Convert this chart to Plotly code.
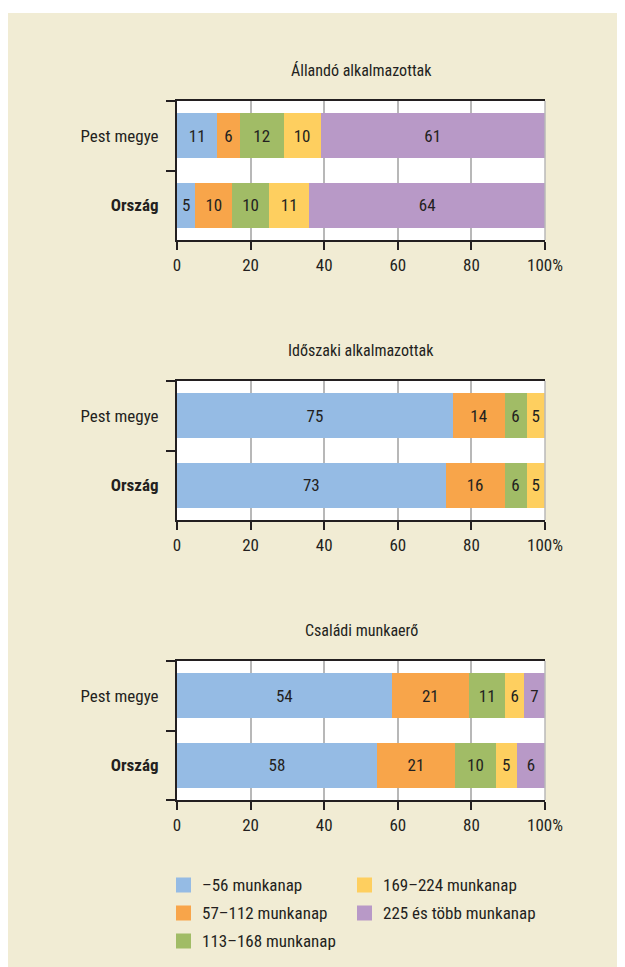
import plotly.graph_objects as go

# ---------------- data ----------------
categories = ["Pest megye", "<b>Ország</b>"]
series = ["–56 munkanap", "57–112 munkanap", "113–168 munkanap",
          "169–224 munkanap", "225 és több munkanap"]
panel_titles = ["Állandó alkalmazottak", "Időszaki alkalmazottak", "Családi munkaerő"]

# bar lengths (%) as drawn, and the numbers printed on them
allando_pest = [11, 6, 12, 10, 61]
allando_orszag = [5, 10, 10, 11, 64]
idoszaki_pest = [75, 14, 6, 5, 0]
idoszaki_orszag = [73, 16, 6, 5, 0]
csaladi_pest = [58.3, 21.1, 9.8, 5.1, 5.7]
csaladi_orszag = [54.3, 21.3, 11.0, 5.7, 7.7]
csaladi_pest_labels = [54, 21, 11, 6, 7]
csaladi_orszag_labels = [58, 21, 10, 5, 6]

x_tickvals = [0, 20, 40, 60, 80, 100]
x_ticktext = ["0", "20", "40", "60", "80", "100%"]

colors = ["#95BBE4", "#F8A54A", "#A1BC66", "#FECF5F", "#B899C7"]

panels = [
    (allando_pest, allando_orszag, allando_pest, allando_orszag),
    (idoszaki_pest, idoszaki_orszag, idoszaki_pest, idoszaki_orszag),
    (csaladi_pest, csaladi_orszag, csaladi_pest_labels, csaladi_orszag_labels),
]

# ---------------- layout geometry (page pixels) ----------------
OFF = 8                      # browser body margin
W, H = 625 - OFF, 967 - OFF  # figure size
PX0, PX1 = 177, 545          # plot area left/right (page px)
PT, PB = 101, 800            # top of first panel, bottom of last panel (page px)
panel_px = [(101, 240), (381, 520), (661, 800)]

def py(p):  # page pixel y -> paper y
    return (PB - p) / (PB - PT)

def pxx(p):  # page pixel x -> paper x
    return (p - PX0) / (PX1 - PX0)

FONT = "Roboto Condensed, Liberation Sans Narrow, DejaVu Sans Condensed, sans-serif"
TXT = "#231F20"
BG = "#F1ECD4"

fig = go.Figure()

for i, (vp, vo, lp, lo) in enumerate(panels):
    xa = "x" if i == 0 else f"x{i+1}"
    ya = "y" if i == 0 else f"y{i+1}"
    for s in range(len(series)):
        vals = [vp[s], vo[s]]
        labs = [str(lp[s]) if vp[s] > 0 else "", str(lo[s]) if vo[s] > 0 else ""]
        fig.add_trace(go.Bar(
            x=vals, y=categories, orientation="h", name=series[s],
            marker=dict(color=colors[s], line=dict(width=0)),
            text=labs, textposition="inside", insidetextanchor="middle",
            textangle=0, textfont=dict(family=FONT, size=17, color=TXT),
            xaxis=xa, yaxis=ya, showlegend=False, hoverinfo="skip",
        ))

layout = dict(
    width=W, height=H, barmode="stack", bargap=0.35,
    paper_bgcolor=BG, plot_bgcolor="white",
    margin=dict(l=PX0 - OFF, r=W + OFF - PX1, t=PT - OFF, b=H + OFF - PB, pad=0),
    font=dict(family=FONT, size=17, color=TXT),
    uniformtext=dict(minsize=17, mode="show"),
    showlegend=False,
)

annotations = []
shapes = []
for i, (top, bot) in enumerate(panel_px):
    sfx = "" if i == 0 else str(i + 1)
    layout["xaxis" + sfx] = dict(
        domain=[0, 1], anchor="y" + sfx, range=[0, 100],
        tickmode="array", tickvals=x_tickvals, ticktext=x_ticktext,
        showgrid=True, gridcolor="#B8B8B8", gridwidth=1.5,
        zeroline=False, showline=True, linecolor=TXT, linewidth=2, mirror=True,
        ticks="outside", ticklen=8, tickwidth=2, tickcolor=TXT,
        ticklabelstandoff=1, tickfont=dict(size=17),
    )
    layout["yaxis" + sfx] = dict(
        domain=[py(bot), py(top)], anchor="x" + sfx,
        categoryorder="array", categoryarray=categories[::-1],
        showline=True, linecolor=TXT, linewidth=2,
        ticks="outside", tickson="boundaries", ticklen=9, tickwidth=2, tickcolor=TXT,
        ticklabelstandoff=13, showgrid=False, zeroline=False, tickfont=dict(size=17),
    )
    annotations.append(dict(
        text=panel_titles[i], xref="paper", yref="paper", x=0.5, y=py(top),
        yshift=31, xanchor="center", yanchor="middle", showarrow=False,
        font=dict(size=16, color=TXT),
    ))
    # right border of plot area
    shapes.append(dict(type="line", xref="paper", yref="paper",
                       x0=1, x1=1, y0=py(bot), y1=py(top),
                       line=dict(color="#B8B8B8", width=1.5)))

# white strip at the top (page y 8..13)
shapes.append(dict(type="rect", xref="paper", yref="paper", layer="below",
                   x0=pxx(0), x1=pxx(700), y0=py(13), y1=py(0),
                   fillcolor="white", line=dict(width=0)))

# legend (two columns, column-major)
leg_cols_x = [176, 357]
leg_rows_y = [885, 913, 941]
for s, name in enumerate(series):
    c, r = divmod(s, 3)
    x0 = leg_cols_x[c]
    yc = leg_rows_y[r]
    shapes.append(dict(type="rect", xref="paper", yref="paper",
                       x0=pxx(x0), x1=pxx(x0 + 15), y0=py(yc + 7.5), y1=py(yc - 7.5),
                       fillcolor=colors[s], line=dict(width=0)))
    annotations.append(dict(
        text=name, xref="paper", yref="paper", x=pxx(x0 + 24), y=py(yc),
        xanchor="left", yanchor="middle", showarrow=False,
        font=dict(size=17, color=TXT),
    ))

layout["annotations"] = annotations
layout["shapes"] = shapes
fig.update_layout(**layout)

fig.write_html("out.html")
